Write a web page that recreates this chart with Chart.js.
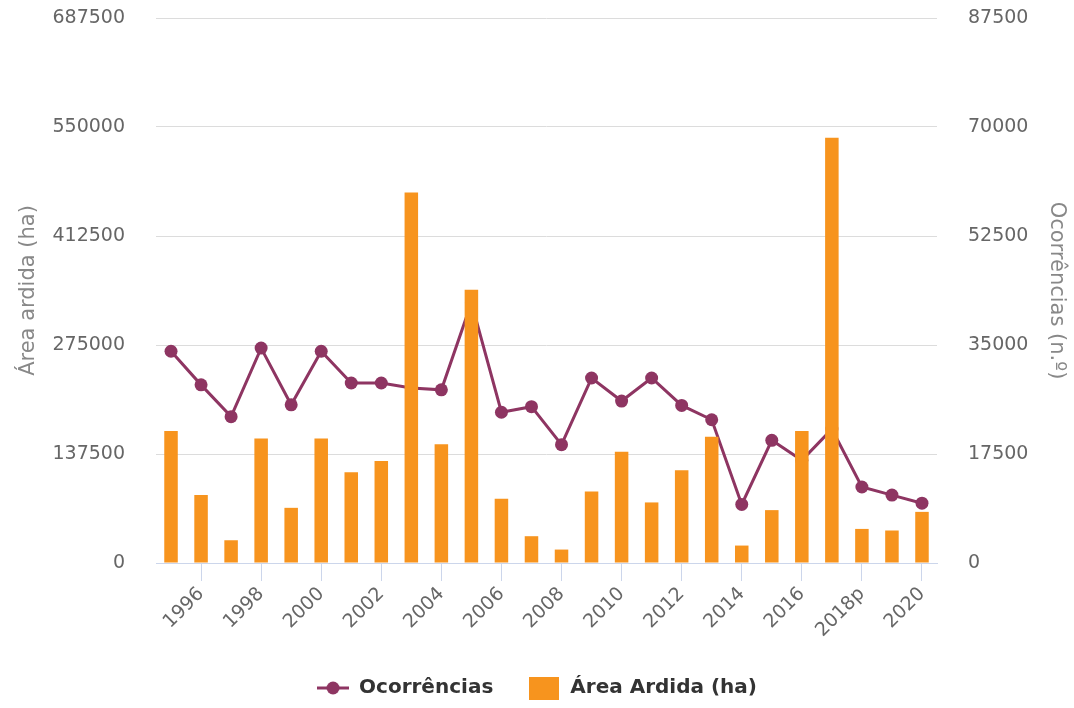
<!DOCTYPE html>
<html>
<head>
<meta charset="utf-8">
<script src="https://cdn.jsdelivr.net/npm/chart.js@4"></script>
<style>
  html, body { margin: 0; padding: 0; background: #fff; }
  #wrap { width: 1074px; height: 708px; }
</style>
</head>
<body>
<div id="wrap"><canvas id="chartJSContainer"></canvas></div>
<script>
var anos = ["1995", "1996", "1997", "1998", "1999", "2000", "2001", "2002", "2003",
  "2004", "2005", "2006", "2007", "2008", "2009", "2010", "2011", "2012", "2013",
  "2014", "2015", "2016", "2017", "2018p", "2019", "2020"];
var ocorrencias = [34000, 28600, 23500, 34500, 25400, 34000, 28900, 28900, 28100,
  27800, 41800, 24200, 25100, 19000, 29700, 26000, 29700, 25300, 23000,
  9400, 19700, 16500, 21500, 12200, 10900, 9600];
var areaArdida = [166600, 85700, 28700, 156900, 69600, 156900, 114400, 128700, 467300,
  149800, 344600, 81000, 33800, 16950, 90300, 140400, 76400, 116900, 159400,
  22000, 66700, 166600, 536400, 43000, 41000, 64500];
var ticksArea = [0, 137500, 275000, 412500, 550000, 687500];
var ticksOcorr = [0, 17500, 35000, 52500, 70000, 87500];

var roxo = "#8e3562";
var laranja = "#f7941e";
var fonte = "'DejaVu Sans', sans-serif";

// legend icons: line with a dot, and a filled block
function iconeLinha() {
  var c = document.createElement("canvas");
  c.width = 32; c.height = 14;
  var g = c.getContext("2d");
  g.strokeStyle = roxo; g.lineWidth = 3;
  g.beginPath(); g.moveTo(0, 7); g.lineTo(32, 7); g.stroke();
  g.fillStyle = roxo;
  g.beginPath(); g.arc(16, 7, 6.5, 0, Math.PI * 2); g.fill();
  return c;
}
function iconeBloco() {
  var c = document.createElement("canvas");
  c.width = 30; c.height = 23;
  var g = c.getContext("2d");
  g.fillStyle = laranja;
  g.fillRect(0, 0, 30, 23);
  return c;
}
var icones = [iconeLinha(), iconeBloco()];

function semSeparador(v) { return String(v); }
function semPadding(s) { s.paddingTop = 0; s.paddingBottom = 0; }

var options = {
  type: "bar",
  data: {
    labels: anos,
    datasets: [
      {
        type: "line",
        label: "Ocorrências",
        data: ocorrencias,
        yAxisID: "yOcorr",
        borderColor: roxo,
        backgroundColor: roxo,
        borderWidth: 3,
        pointRadius: 6.5,
        pointHoverRadius: 6.5,
        pointBackgroundColor: roxo,
        pointBorderWidth: 0,
        tension: 0,
        order: 2,
      },
      {
        label: "Área Ardida (ha)",
        data: areaArdida,
        yAxisID: "yArea",
        backgroundColor: laranja,
        borderWidth: 0,
        categoryPercentage: 1,
        barPercentage: 0.45,
        order: 1,
      },
    ],
  },
  options: {
    responsive: true,
    maintainAspectRatio: false,
    animation: false,
    layout: { padding: { top: 18, left: 0, right: 0, bottom: 0 } },
    plugins: {
      tooltip: { enabled: false },
      legend: {
        position: "bottom",
        labels: {
          usePointStyle: true,
          pointStyleWidth: 32,
          padding: 35,
          color: "#333",
          font: { family: fonte, size: 20, weight: "bold" },
          generateLabels: function (chart) {
            var items = Chart.defaults.plugins.legend.labels.generateLabels(chart);
            items.forEach(function (it) { it.pointStyle = icones[it.datasetIndex]; });
            return items.sort(function (a, b) { return a.datasetIndex - b.datasetIndex; });
          },
        },
      },
    },
    scales: {
      x: {
        offset: true,
        grid: {
          offset: false,
          drawOnChartArea: false,
          drawTicks: true,
          tickLength: 18,
          color: function (ctx) { return ctx.index % 2 ? "#ccd6eb" : "rgba(0,0,0,0)"; },
        },
        border: { color: "#ccd6eb", width: 1 },
        ticks: {
          autoSkip: false,
          minRotation: 45,
          maxRotation: 45,
          padding: 2,
          color: "#666",
          font: { family: fonte, size: 19 },
          callback: function (v, i) { return i % 2 ? anos[i] : ""; },
        },
        afterFit: function (s) { s.height = 80; },
      },
      yArea: {
        position: "left",
        min: 0,
        max: 687500,
        afterBuildTicks: function (s) { s.ticks = ticksArea.map(function (v) { return { value: v }; }); },
        grid: { color: "#dcdcdc", lineWidth: 1, drawTicks: false },
        border: { display: false },
        ticks: { padding: 31, color: "#666", font: { family: fonte, size: 19 }, callback: semSeparador },
        title: {
          display: true,
          text: "Área ardida (ha)",
          color: "#888",
          padding: { top: 16, bottom: 0 },
          font: { family: fonte, size: 21 },
        },
        afterFit: function (s) { s.width = 156; semPadding(s); },
      },
      yOcorr: {
        position: "right",
        min: 0,
        max: 87500,
        afterBuildTicks: function (s) { s.ticks = ticksOcorr.map(function (v) { return { value: v }; }); },
        grid: { drawOnChartArea: false, drawTicks: false },
        border: { display: false },
        ticks: { padding: 31, color: "#666", font: { family: fonte, size: 19 }, callback: semSeparador },
        title: {
          display: true,
          text: "Ocorrências (n.º)",
          color: "#888",
          padding: { top: 5, bottom: 0 },
          font: { family: fonte, size: 21 },
        },
        afterFit: function (s) { s.width = 137; semPadding(s); },
      },
    },
  },
};

var ctx = document.getElementById("chartJSContainer").getContext("2d");
var myChart = new Chart(ctx, options);
</script>
</body>
</html>
